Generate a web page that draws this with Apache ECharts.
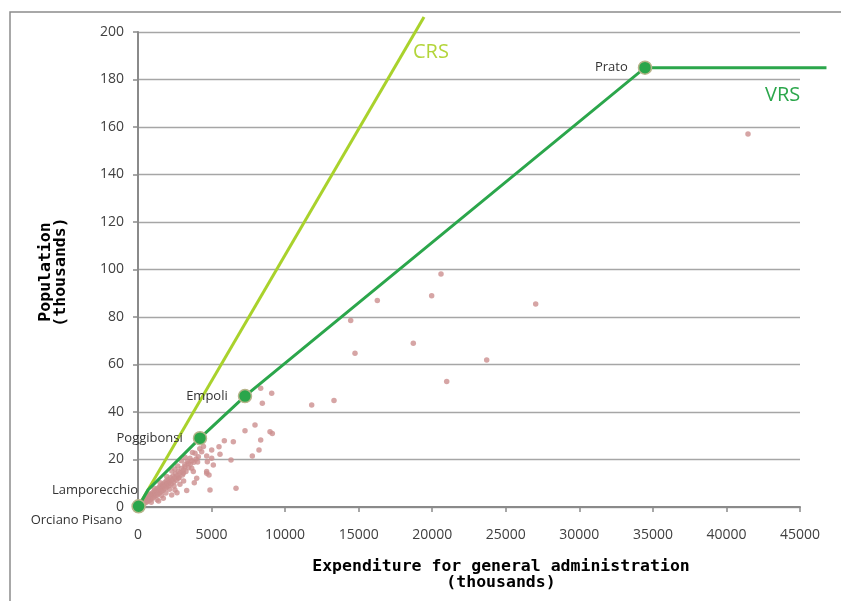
<!DOCTYPE html>
<html>
<head>
<meta charset="utf-8">
<script src="https://cdn.jsdelivr.net/npm/echarts@6/dist/echarts.min.js"></script>
<style>
html,body{margin:0;padding:0;background:#fff;}
#chart{width:841px;height:601px;}
</style>
</head>
<body>
<div id="chart"></div>
<script>
// ---- data ----
const xTicks = [0, 5000, 10000, 15000, 20000, 25000, 30000, 35000, 40000, 45000];
const yTicks = [0, 20, 40, 60, 80, 100, 120, 140, 160, 180, 200];

// municipalities (expenditure in thousands, population in thousands)
const municipalities = [
  [41466,157.1],[27034,85.5],[20597,98.1],[19962,89.0],[16268,86.9],[14458,78.5],
  [18714,68.9],[14751,64.7],[23703,61.9],[20985,52.8],[11807,42.9],[13323,44.8],
  [8340,50.0],[9088,47.9],[8451,43.7],[7953,34.5],[7273,32.1],[8973,31.7],[9130,31.0],
  [8340,28.2],[6480,27.5],[5868,27.9],[8225,24.0],[5506,25.4],[5008,24.0],[5574,22.2],
  [7771,21.5],[6322,19.8],[5008,20.5],[5120,17.7],[4712,19.1],[4667,14.9],[4826,13.5],
  [4894,7.2],[6662,7.9],
  [3310,6.9],[3827,10.2],[3990,12.1],[4670,14.2],[4330,23.3],[4100,21.2],[4670,21.5],
  [3875,22.6],[3535,20.5],[3420,18.4],[3195,17.0],[3650,16.3],[3080,14.2],[3760,14.9],
  [2740,12.1],[2060,10.0],[2515,7.2],[2290,5.1],[1720,3.7],
  [120,0.8],[180,1.4],[230,0.9],[260,1.9],[310,1.5],[350,2.6],[380,1.1],[420,2.2],
  [460,3.1],[490,1.8],[530,2.7],[570,3.6],[600,2.1],[640,3.2],[680,4.3],[710,2.6],
  [750,3.8],[790,4.9],[820,3.0],[860,4.4],[900,5.5],[930,3.5],[970,4.9],[1010,6.1],
  [1040,4.0],[1080,5.4],[1120,6.7],[1150,4.6],[1190,5.9],[1230,7.2],[1260,5.0],
  [1300,6.4],[1340,7.8],[1370,5.5],[1410,6.9],[1450,8.4],[1480,6.0],[1520,7.5],
  [1560,9.0],[1600,6.6],[1640,8.1],[1680,9.6],[1710,7.1],[1750,8.7],[1800,10.2],
  [1840,7.8],[1880,9.3],[1920,10.9],[1960,8.4],[2010,9.9],[2060,11.6],[2110,9.0],
  [2160,10.6],[2210,12.3],[2260,9.7],[2320,11.4],[2380,13.1],[2430,10.5],[2490,12.2],
  [2550,14.0],[2600,11.3],[2670,13.2],[2740,15.0],[2800,12.4],[2870,14.4],[2950,16.2],
  [3020,13.5],[3100,15.6],[3180,17.8],[3260,15.0],[3350,19.2],[3440,16.5],[3550,18.0],
  [3680,19.5],[3800,18.8],[3950,20.2],[4050,19.0],[4200,24.5],[4450,25.5],[3700,23.0],
  [900,2.0],[1300,3.1],[1600,4.8],[1900,5.9],[2150,7.5],[2450,8.8],[2850,9.6],
  [3100,11.0],[1400,2.5],[2650,6.0],
  [800,5.5],[1100,7.9],[1500,10.2],[1950,12.8],[2300,15.2],[2700,17.3],[2950,19.5],
  [3200,21.0],[2500,16.0]
];

// CRS frontier (through origin)
const crsX = [0, 19442];
const crsY = [0, 206.3];

// VRS frontier
const vrsNames = ['Orciano Pisano', 'Lamporecchio', 'Poggibonsi', 'Empoli', 'Prato', ''];
const vrsX = [40, 680, 4215, 7273, 34464, 46800];
const vrsY = [0.3, 7.2, 29.0, 46.7, 185.0, 185.0];

// ---- chart ----
const chart = echarts.init(document.getElementById('chart'), null, {renderer: 'canvas'});

const labelFont = {fontFamily: 'Open Sans', fontSize: 13, color: '#333'};
const vrsData = vrsNames.map((n, i) => {
  const item = {value: [vrsX[i], vrsY[i]], name: n};
  if (n === '') {
    item.symbolSize = 0;
    item.label = {show: false};
  } else if (n === 'Lamporecchio') {
    item.symbolSize = 0;
    item.label = Object.assign({show: true, position: 'left', distance: 10, formatter: n}, labelFont);
  } else if (n === 'Orciano Pisano') {
    item.label = Object.assign({show: true, position: 'left', distance: 9, offset: [0, 14], formatter: n}, labelFont);
  } else {
    item.label = Object.assign({show: true, position: 'left', distance: 10, formatter: n}, labelFont);
  }
  return item;
});

const VRS_COLOR = '#2ba64b';
const tickFont = {fontFamily: 'Open Sans', fontSize: 14, color: '#404040'};
const titleFont = 'bold 16.5px "DejaVu Sans Mono"';

chart.setOption({
  backgroundColor: '#fff',
  animation: false,
  grid: {left: 138, right: 41, top: 32, bottom: 94, containLabel: false},
  xAxis: {
    type: 'value', min: 0, max: 45000, interval: 5000,
    axisLine: {show: true, lineStyle: {color: '#8a8a8a', width: 2}},
    axisTick: {show: true, length: 5, lineStyle: {color: '#8a8a8a', width: 1.5}},
    axisLabel: Object.assign({margin: 21, formatter: v => String(v)}, tickFont),
    splitLine: {show: false}
  },
  yAxis: {
    type: 'value', min: 0, max: 200, interval: 20,
    axisLine: {show: true, lineStyle: {color: '#8a8a8a', width: 2}},
    axisTick: {show: true, length: 5, lineStyle: {color: '#8a8a8a', width: 1.5}},
    axisLabel: Object.assign({margin: 14, formatter: v => String(v)}, tickFont),
    splitLine: {show: true, lineStyle: {color: '#a6a6a6', width: 1.3}}
  },
  series: [
    {
      type: 'scatter', name: 'Municipalities',
      data: municipalities,
      symbolSize: 5.5,
      itemStyle: {color: '#cc8e8e'},
      z: 2
    },
    {
      type: 'line', name: 'CRS',
      data: crsX.map((x, i) => [x, crsY[i]]),
      showSymbol: false, clip: false,
      lineStyle: {color: '#a9d22c', width: 3},
      z: 3
    },
    {
      // VRS frontier polyline (drawn unclipped so it runs past the plot edge)
      type: 'custom', name: 'VRS line',
      coordinateSystem: 'cartesian2d',
      clip: false,
      data: vrsX.map((x, i) => [x, vrsY[i]]),
      renderItem: function (params, api) {
        if (params.dataIndex !== 0) return null;
        const pts = vrsX.map((x, i) => api.coord([x, vrsY[i]]));
        return {
          type: 'polyline',
          shape: {points: pts},
          style: {stroke: VRS_COLOR, lineWidth: 3, fill: null}
        };
      },
      silent: true,
      z: 4
    },
    {
      // VRS frontier points with labels
      type: 'line', name: 'VRS',
      data: vrsData,
      showSymbol: true, symbol: 'circle', symbolSize: 13, clip: false,
      lineStyle: {color: VRS_COLOR, width: 0, opacity: 0},
      itemStyle: {color: VRS_COLOR, borderColor: '#b7b48a', borderWidth: 1.5},
      z: 5
    }
  ],
  graphic: [
    {type: 'rect', shape: {x: 10, y: 12, width: 900, height: 700},
     style: {fill: 'none', stroke: '#8c8c8c', lineWidth: 1.5}, silent: true, z: -1},
    {type: 'text', x: 413, y: 52, style: {text: 'CRS', font: '20px "Open Sans"', fill: '#b3d53a', textAlign: 'left', textVerticalAlign: 'middle'}},
    {type: 'text', x: 765, y: 95, style: {text: 'VRS', font: '20px "Open Sans"', fill: VRS_COLOR, textAlign: 'left', textVerticalAlign: 'middle'}},
    {type: 'text', x: 501, y: 567, style: {text: 'Expenditure for general administration', font: titleFont, fill: '#000', textAlign: 'center', textVerticalAlign: 'middle'}},
    {type: 'text', x: 501, y: 583, style: {text: '(thousands)', font: titleFont, fill: '#000', textAlign: 'center', textVerticalAlign: 'middle'}},
    {type: 'text', x: 46, y: 272, rotation: Math.PI / 2, style: {text: 'Population', font: titleFont, fill: '#000', textAlign: 'center', textVerticalAlign: 'middle'}},
    {type: 'text', x: 61, y: 272, rotation: Math.PI / 2, style: {text: '(thousands)', font: titleFont, fill: '#000', textAlign: 'center', textVerticalAlign: 'middle'}}
  ]
});
</script>
</body>
</html>
